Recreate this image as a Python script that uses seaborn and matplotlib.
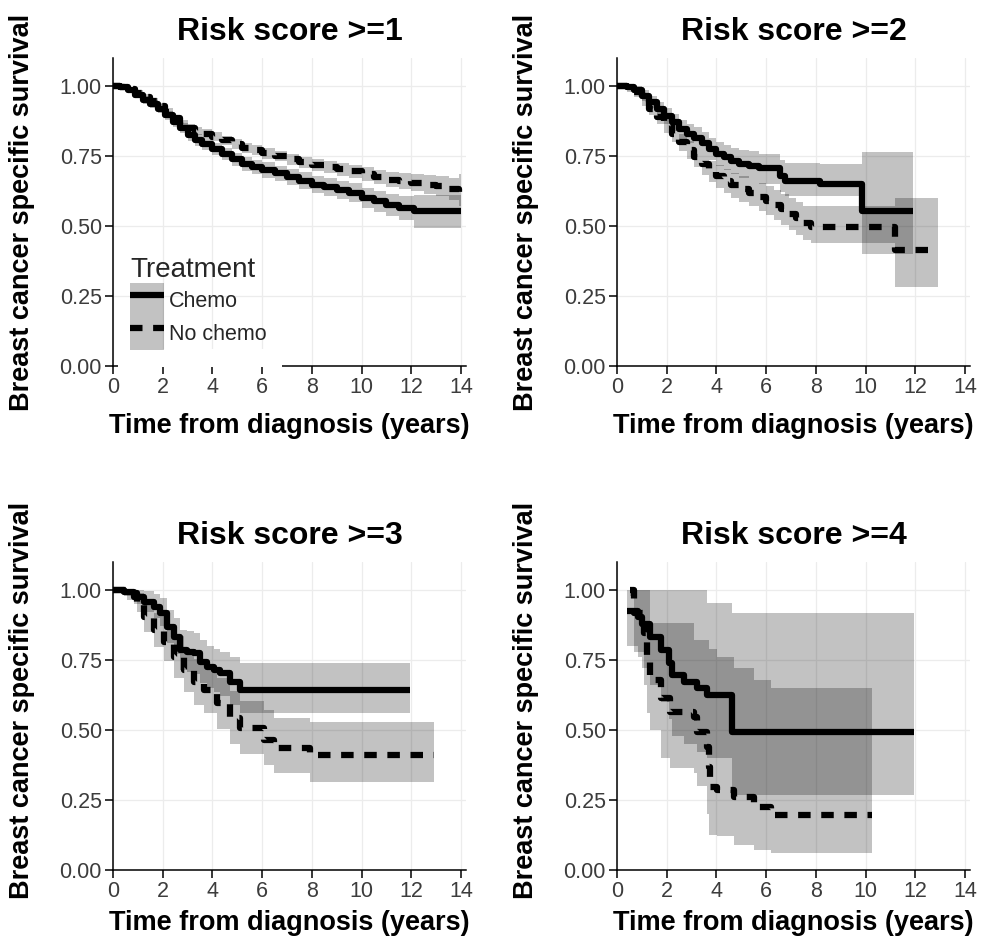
import matplotlib
matplotlib.use("Agg")
import matplotlib.pyplot as plt
import numpy as np
import pandas as pd
import seaborn as sns
from matplotlib.patches import Patch, Rectangle
from matplotlib.lines import Line2D
from matplotlib.legend_handler import HandlerTuple

# ---------------- data ----------------
titles = ["Risk score >=1", "Risk score >=2", "Risk score >=3", "Risk score >=4"]
groups = ["Chemo", "No chemo"]
x_ticks = [0, 2, 4, 6, 8, 10, 12, 14]
y_ticks = [0.0, 0.25, 0.5, 0.75, 1.0]
y_ticklabels = ["0.00", "0.25", "0.50", "0.75", "1.00"]

# Panel 1 : Risk score >= 1
p1_chemo_time = [0, 0.3, 0.6, 0.9, 1.2, 1.5, 1.8, 2.1, 2.4, 2.7, 3.0, 3.3, 3.6, 4.0, 4.4, 4.8, 5.2,
                 5.6, 6.0, 6.5, 7.0, 7.5, 8.0, 8.5, 9.0, 9.5, 10.0, 10.5, 11.0, 11.5, 12.1, 14.0]
p1_chemo_surv = [1.0, 0.997, 0.985, 0.968, 0.95, 0.935, 0.918, 0.895, 0.873, 0.85, 0.825, 0.808, 0.793,
                 0.775, 0.757, 0.738, 0.722, 0.71, 0.70, 0.688, 0.675, 0.662, 0.648, 0.638, 0.628,
                 0.618, 0.60, 0.588, 0.575, 0.565, 0.553, 0.553]
p1_chemo_lower = [1.0, 0.99, 0.976, 0.957, 0.937, 0.92, 0.902, 0.878, 0.855, 0.831, 0.805, 0.787, 0.772,
                  0.753, 0.734, 0.714, 0.697, 0.684, 0.673, 0.66, 0.646, 0.632, 0.617, 0.606, 0.595,
                  0.584, 0.565, 0.551, 0.536, 0.522, 0.493, 0.493]
p1_chemo_upper = [1.0, 1.0, 0.994, 0.979, 0.963, 0.95, 0.934, 0.912, 0.891, 0.869, 0.845, 0.829, 0.814,
                  0.797, 0.78, 0.762, 0.747, 0.736, 0.727, 0.716, 0.704, 0.692, 0.679, 0.67, 0.661,
                  0.652, 0.635, 0.625, 0.614, 0.608, 0.61, 0.61]

p1_none_time = [0, 0.3, 0.6, 0.9, 1.2, 1.5, 1.8, 2.1, 2.4, 2.7, 3.0, 3.3, 3.6, 4.0, 4.4, 4.8, 5.2, 5.6,
                6.0, 6.5, 7.0, 7.5, 8.0, 8.5, 9.0, 9.5, 10.0, 10.5, 11.0, 11.5, 12.0, 12.5, 13.0, 13.5,
                13.9, 14.0]
p1_none_surv = [1.0, 0.997, 0.988, 0.975, 0.96, 0.945, 0.928, 0.908, 0.885, 0.865, 0.85, 0.84, 0.83,
                0.818, 0.806, 0.793, 0.78, 0.77, 0.76, 0.75, 0.738, 0.727, 0.718, 0.71, 0.702, 0.695,
                0.685, 0.675, 0.666, 0.66, 0.655, 0.648, 0.642, 0.632, 0.605, 0.605]
p1_none_lower = [1.0, 0.992, 0.981, 0.966, 0.95, 0.934, 0.916, 0.895, 0.872, 0.851, 0.835, 0.825, 0.814,
                 0.802, 0.789, 0.776, 0.762, 0.752, 0.741, 0.731, 0.718, 0.707, 0.697, 0.689, 0.68,
                 0.672, 0.661, 0.65, 0.64, 0.632, 0.625, 0.615, 0.606, 0.594, 0.57, 0.57]
p1_none_upper = [1.0, 1.0, 0.995, 0.984, 0.97, 0.956, 0.94, 0.921, 0.898, 0.879, 0.865, 0.855, 0.846,
                 0.834, 0.823, 0.81, 0.798, 0.788, 0.779, 0.769, 0.758, 0.747, 0.739, 0.731, 0.724,
                 0.718, 0.709, 0.7, 0.692, 0.688, 0.685, 0.681, 0.678, 0.67, 0.686, 0.686]

# Panel 2 : Risk score >= 2
p2_chemo_time = [0, 0.4, 0.7, 1.0, 1.3, 1.6, 1.9, 2.2, 2.5, 2.8, 3.1, 3.4, 3.7, 4.0, 4.3, 4.6, 4.9,
                 5.3, 5.7, 6.55, 6.75, 8.16, 9.84, 11.92]
p2_chemo_surv = [1.0, 0.995, 0.985, 0.965, 0.943, 0.918, 0.893, 0.87, 0.845, 0.83, 0.815, 0.795, 0.775,
                 0.758, 0.745, 0.733, 0.722, 0.715, 0.706, 0.68, 0.662, 0.65, 0.555, 0.555]
p2_chemo_lower = [1.0, 0.985, 0.97, 0.945, 0.92, 0.892, 0.865, 0.84, 0.812, 0.795, 0.778, 0.756, 0.735,
                  0.716, 0.7, 0.686, 0.672, 0.664, 0.651, 0.62, 0.606, 0.606, 0.40, 0.40]
p2_chemo_upper = [1.0, 1.0, 1.0, 0.985, 0.966, 0.944, 0.921, 0.9, 0.878, 0.865, 0.852, 0.834, 0.815,
                  0.8, 0.79, 0.78, 0.772, 0.768, 0.757, 0.735, 0.725, 0.72, 0.765, 0.765]

p2_none_time = [0, 0.4, 0.7, 1.0, 1.3, 1.6, 1.9, 2.2, 2.5, 2.8, 3.1, 3.4, 3.7, 4.0, 4.3, 4.6, 4.9, 5.3,
                5.7, 6.0, 6.3, 6.6, 6.9, 7.2, 7.5, 7.82, 11.18, 12.9]
p2_none_surv = [1.0, 0.99, 0.978, 0.95, 0.918, 0.89, 0.86, 0.83, 0.80, 0.772, 0.745, 0.72, 0.695, 0.678,
                0.66, 0.645, 0.632, 0.618, 0.603, 0.59, 0.575, 0.56, 0.543, 0.527, 0.51, 0.496, 0.415,
                0.415]
p2_none_lower = [1.0, 0.978, 0.962, 0.93, 0.895, 0.864, 0.832, 0.8, 0.768, 0.738, 0.71, 0.683, 0.656,
                 0.637, 0.617, 0.6, 0.586, 0.57, 0.553, 0.538, 0.521, 0.505, 0.486, 0.468, 0.45, 0.441,
                 0.281, 0.281]
p2_none_upper = [1.0, 1.0, 0.992, 0.97, 0.94, 0.915, 0.887, 0.86, 0.83, 0.805, 0.78, 0.757, 0.733, 0.717,
                 0.702, 0.69, 0.678, 0.666, 0.652, 0.642, 0.628, 0.614, 0.6, 0.586, 0.573, 0.573, 0.60,
                 0.60]

# Panel 3 : Risk score >= 3
p3_chemo_time = [0, 0.43, 0.83, 1.23, 1.64, 1.9, 2.17, 2.44, 2.71, 2.98, 3.24, 3.51, 3.78, 4.05, 4.32,
                 4.72, 5.12, 11.93]
p3_chemo_surv = [1.0, 0.994, 0.976, 0.958, 0.94, 0.917, 0.869, 0.833, 0.786, 0.78, 0.774, 0.744, 0.726,
                 0.714, 0.702, 0.673, 0.643, 0.643]
p3_chemo_lower = [1.0, 0.98, 0.95, 0.922, 0.9, 0.87, 0.81, 0.77, 0.715, 0.708, 0.7, 0.668, 0.65, 0.636,
                  0.622, 0.59, 0.56, 0.56]
p3_chemo_upper = [1.0, 1.0, 1.0, 0.995, 0.985, 0.97, 0.93, 0.9, 0.857, 0.852, 0.845, 0.82, 0.80, 0.79,
                  0.78, 0.76, 0.738, 0.738]

p3_none_time = [0, 0.56, 0.97, 1.23, 1.64, 2.04, 2.44, 2.84, 3.24, 3.65, 4.18, 4.72, 5.12, 6.06, 6.46,
                7.94, 12.9]
p3_none_surv = [1.0, 0.988, 0.958, 0.905, 0.857, 0.815, 0.762, 0.714, 0.673, 0.643, 0.595, 0.542, 0.506,
                0.464, 0.435, 0.411, 0.411]
p3_none_lower = [1.0, 0.965, 0.92, 0.85, 0.795, 0.745, 0.685, 0.635, 0.59, 0.56, 0.505, 0.45, 0.415,
                 0.375, 0.345, 0.315, 0.315]
p3_none_upper = [1.0, 1.0, 0.99, 0.955, 0.917, 0.88, 0.835, 0.79, 0.755, 0.728, 0.685, 0.64, 0.605,
                 0.57, 0.542, 0.53, 0.53]

# Panel 4 : Risk score >= 4
p4_chemo_time = [0.4, 0.83, 1.0, 1.34, 1.75, 2.08, 2.22, 2.69, 3.23, 3.63, 4.64, 11.94]
p4_chemo_surv = [0.925, 0.905, 0.88, 0.833, 0.786, 0.738, 0.696, 0.673, 0.649, 0.625, 0.494, 0.494]
p4_chemo_lower = [0.80, 0.76, 0.72, 0.66, 0.60, 0.54, 0.48, 0.45, 0.42, 0.40, 0.268, 0.268]
p4_chemo_upper = [1.0, 1.0, 1.0, 1.0, 1.0, 1.0, 1.0, 1.0, 1.0, 0.952, 0.919, 0.919]

p4_none_time = [0.54, 0.7, 1.08, 1.21, 1.34, 1.75, 2.15, 3.09, 3.23, 3.63, 3.7, 3.76, 4.03, 4.7, 5.5,
                6.18, 10.24]
p4_none_surv = [1.0, 0.917, 0.845, 0.756, 0.679, 0.613, 0.565, 0.548, 0.494, 0.44, 0.369, 0.298, 0.286,
                0.262, 0.226, 0.196, 0.196]
p4_none_lower = [0.98, 0.78, 0.66, 0.56, 0.50, 0.40, 0.365, 0.345, 0.30, 0.20, 0.125, 0.125, 0.12,
                 0.089, 0.07, 0.06, 0.06]
p4_none_upper = [1.0, 1.0, 1.0, 1.0, 0.881, 0.881, 0.881, 0.821, 0.821, 0.821, 0.79, 0.79, 0.76, 0.72,
                 0.68, 0.649, 0.649]

panels = [
    (p1_chemo_time, p1_chemo_surv, p1_chemo_lower, p1_chemo_upper,
     p1_none_time, p1_none_surv, p1_none_lower, p1_none_upper),
    (p2_chemo_time, p2_chemo_surv, p2_chemo_lower, p2_chemo_upper,
     p2_none_time, p2_none_surv, p2_none_lower, p2_none_upper),
    (p3_chemo_time, p3_chemo_surv, p3_chemo_lower, p3_chemo_upper,
     p3_none_time, p3_none_surv, p3_none_lower, p3_none_upper),
    (p4_chemo_time, p4_chemo_surv, p4_chemo_lower, p4_chemo_upper,
     p4_none_time, p4_none_surv, p4_none_lower, p4_none_upper),
]

rows = []
for pi, (ct, cs, cl, cu, nt, ns, nl, nu) in enumerate(panels):
    for g, (t, s, lo, hi) in zip(groups, [(ct, cs, cl, cu), (nt, ns, nl, nu)]):
        for a, b, c, d in zip(t, s, lo, hi):
            rows.append(dict(panel=pi, Treatment=g, time=a, surv=b, lower=c, upper=d))
df = pd.DataFrame(rows)

# ---------------- style ----------------
sns.set_theme(style="white")
plt.rcParams["font.family"] = ["Liberation Sans", "DejaVu Sans"]

W, H = 982, 946
fig = plt.figure(figsize=(W / 100, H / 100), dpi=100)
fig.patch.set_facecolor("white")

LINE_W = 4.5
BAND_ALPHA = 0.24
DASH = (2.0, 1.7)
TICK_COLOR = "#3c3c3c"

# axes rectangles in pixels: (left, top, right, bottom)
ax_px = [(113, 58, 466, 366), (617, 58, 970, 366), (113, 562, 466, 870), (617, 562, 970, 870)]
ylabel_y = [0.50, 0.50, 0.55, 0.55]
xlabel_y = [-0.153, -0.153, -0.13, -0.13]

for pi, (l, t, r, b) in enumerate(ax_px):
    ax = fig.add_axes([l / W, (H - b) / H, (r - l) / W, (b - t) / H])
    sub = df[df.panel == pi]
    for g in groups:
        s = sub[sub.Treatment == g]
        ax.fill_between(s["time"], s["lower"], s["upper"], step="post",
                        color="black", alpha=BAND_ALPHA, lw=0, zorder=1)
    sns.lineplot(data=sub, x="time", y="surv", hue="Treatment", style="Treatment",
                 palette={"Chemo": "black", "No chemo": "black"},
                 dashes={"Chemo": "", "No chemo": DASH},
                 estimator=None, sort=False, drawstyle="steps-post",
                 lw=LINE_W, legend=False, ax=ax, zorder=3,
                 dash_capstyle="butt", solid_capstyle="butt")

    ax.set_xlim(0, 14.2)
    ax.set_ylim(0, 1.1)
    ax.set_xticks(x_ticks)
    ax.set_yticks(y_ticks)
    ax.set_yticklabels(y_ticklabels)
    ax.grid(True, color="#ececec", lw=0.9)
    ax.set_axisbelow(True)
    for sp in ["top", "right"]:
        ax.spines[sp].set_visible(False)
    for sp in ["left", "bottom"]:
        ax.spines[sp].set_color("black")
        ax.spines[sp].set_linewidth(1.1)
    ax.tick_params(axis="both", which="major", direction="out", length=6, width=1.1,
                   color="black", labelsize=15.5, labelcolor=TICK_COLOR, pad=2,
                   bottom=True, left=True)
    ax.set_title(titles[pi], fontsize=23, fontweight="bold", pad=13, color="black")
    ax.set_xlabel("Time from diagnosis (years)", fontsize=19.5, fontweight="bold", color="black")
    ax.set_ylabel("Breast cancer specific survival", fontsize=19.5, fontweight="bold", color="black")
    ax.xaxis.set_label_coords(0.5, xlabel_y[pi])
    ax.yaxis.set_label_coords(-0.222, ylabel_y[pi])

    if pi == 0:
        # white legend background interrupts the x axis line
        ax.add_patch(Rectangle((0.015, -0.004), 0.465, 0.06, transform=ax.transAxes,
                               facecolor="white", edgecolor="none", zorder=3.5, clip_on=False))
        h_chemo = (Patch(facecolor="black", alpha=BAND_ALPHA, lw=0),
                   Line2D([], [], color="black", lw=LINE_W, solid_capstyle="butt"))
        h_none = (Patch(facecolor="black", alpha=BAND_ALPHA, lw=0),
                  Line2D([], [], color="black", lw=LINE_W, dashes=DASH, dash_capstyle="butt"))
        leg = ax.legend([h_chemo, h_none], groups, title="Treatment",
                        handler_map={tuple: HandlerTuple(ndivide=1)},
                        loc="upper left", bbox_to_anchor=((130 - l) / (r - l), (b - 257) / (b - t)),
                        frameon=False, fontsize=15.5, title_fontsize=20,
                        handlelength=1.6, handleheight=2.02, labelspacing=0.0,
                        handletextpad=0.2, borderpad=0, borderaxespad=0,
                        alignment="left")
        leg.set_zorder(5)

fig.savefig("out.png", dpi=100, facecolor="white")
